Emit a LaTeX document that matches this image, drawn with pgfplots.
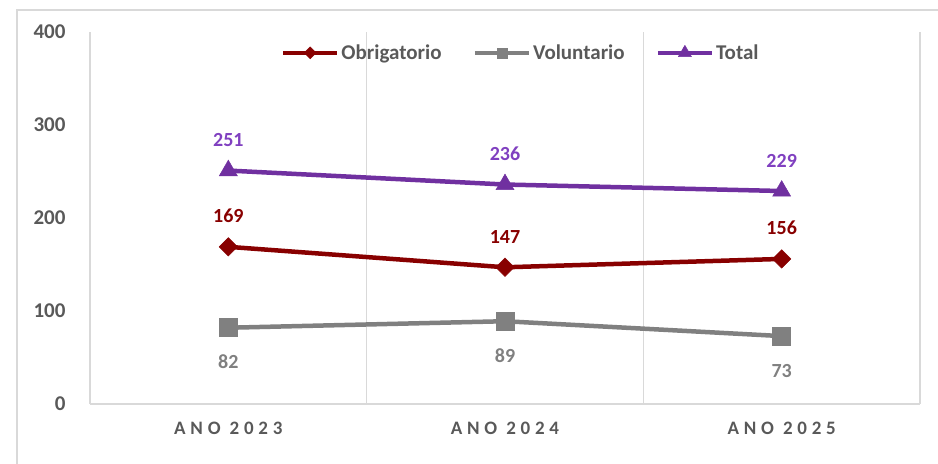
\documentclass[border=0pt]{standalone}
\usepackage{pgfplots}
\pgfplotsset{compat=1.18}
\usepackage{fontspec}
\setmainfont{Carlito}
\definecolor{obr}{HTML}{880000}
\definecolor{vol}{HTML}{808080}
\definecolor{tot}{HTML}{7030A0}
\definecolor{totl}{HTML}{8040C0}
\definecolor{txt}{HTML}{595959}
\definecolor{gridc}{HTML}{D9D9D9}
\begin{document}
\begin{tikzpicture}
\useasboundingbox (0,0) rectangle (938bp,464bp);
\draw[gridc, line width=1.5bp] (17bp,0) -- (17bp,454bp) -- (938bp,454bp);
\begin{axis}[
  at={(90bp,60bp)}, anchor=south west,
  width=830bp, height=372bp, scale only axis,
  xmin=-0.5, xmax=2.5, ymin=0, ymax=400,
  axis line style={draw=none},
  xtick={0,1,2},
  xticklabels={ANO 2023, ANO 2024, ANO 2025},
  ytick={0,100,200,300,400},
  major tick length=0pt,
  /pgf/number format/assume math mode=true,
  xticklabel style={font=\fontsize{19bp}{22bp}\selectfont\bfseries\addfontfeature{LetterSpace=25}, text=txt, yshift=-15bp},
  yticklabel style={font=\fontsize{21bp}{24bp}\selectfont\bfseries, text=txt, xshift=-21bp},
  extra x ticks={-0.5,0.5,1.5,2.5},
  extra x tick labels={},
  extra x tick style={grid=major, major grid style={gridc, line width=1.5bp}},
  extra y ticks={0},
  extra y tick labels={},
  extra y tick style={grid=major, major grid style={gridc, line width=1.5bp}},
  clip=false,
  legend columns=3,
  legend style={at={(0.519,0.944)}, anchor=center, draw=none, fill=none,
    font=\fontsize{21bp}{24bp}\selectfont\bfseries, text=txt,
    /tikz/every even column/.append style={column sep=29bp},
    inner sep=0pt},
  legend image code/.code={
    \draw[mark repeat=2, mark phase=2]
      plot coordinates {(0bp,0bp) (27bp,0bp) (54bp,0bp)};},
  every node near coord/.append style={font=\fontsize{20bp}{24bp}\selectfont\bfseries, inner sep=0pt, anchor=base},
]
\addlegendimage{obr, line width=4.5bp, mark=square*, mark size=4.2bp, mark options={rotate=45, line width=0.5bp}}
\addlegendentry{Obrigatorio}
\addlegendimage{vol, line width=4.5bp, mark=square*, mark size=5bp, mark options={line width=0.5bp}}
\addlegendentry{Voluntario}
\addlegendimage{tot, line width=4.5bp, mark=triangle*, mark size=7.5bp, mark options={line width=0.5bp}}
\addlegendentry{Total}
\addplot[obr, line width=4.5bp, mark=square*, mark size=6.5bp, mark options={rotate=45, line width=0.5bp},
  nodes near coords, every node near coord/.append style={text=obr, yshift=24bp}, forget plot]
  coordinates {(0,169) (1,147) (2,156)};
\addplot[vol, line width=4.5bp, mark=square*, mark size=9bp, mark options={line width=0.5bp},
  nodes near coords, every node near coord/.append style={text=vol, yshift=-41bp}, forget plot]
  coordinates {(0,82) (1,89) (2,73)};
\addplot[tot, line width=4.5bp, mark=triangle*, mark size=10.4bp, mark options={line width=0.5bp},
  nodes near coords, every node near coord/.append style={text=totl, yshift=24bp}, forget plot]
  coordinates {(0,251) (1,236) (2,229)};
\end{axis}
\end{tikzpicture}
\end{document}
